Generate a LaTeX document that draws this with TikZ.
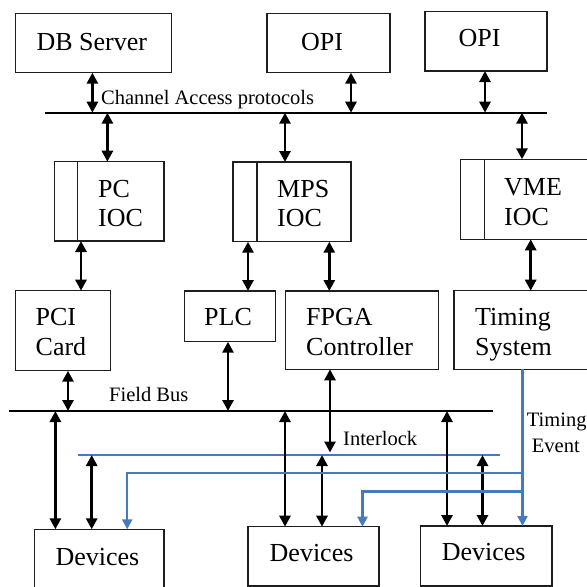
\documentclass[tikz,border=0pt]{standalone}
\usepackage{fontspec}
\setmainfont{Liberation Serif}
\usetikzlibrary{arrows.meta}
\definecolor{evblue}{RGB}{70,122,190}
\definecolor{boxgray}{RGB}{30,30,30}
\begin{document}
\begin{tikzpicture}[x=1pt,y=-1pt,
 box/.style={draw=boxgray, line width=1.2pt, inner sep=0pt, outer sep=0pt, anchor=north west},
 tbig/.style={font=\fontsize{26}{30}\selectfont, anchor=base west, inner sep=0pt},
 tsmall/.style={font=\fontsize{20.5}{24}\selectfont, anchor=base west, inner sep=0pt},
 bus/.style={line width=2.4pt},
 dbl/.style={line width=2.8pt, {Triangle[width=11pt,length=11pt]}-{Triangle[width=11pt,length=11pt]}},
 bline/.style={evblue, line width=2.2pt},
 barrow/.style={evblue, line width=2.2pt, -{Triangle[width=10pt,length=10pt]}}]
\clip (0,0) rectangle (587,587);

% boxes
\node[box, minimum width=155.7pt, minimum height=59.4pt] (dbs) at (15.7,13.3) {};
\node[box, minimum width=123pt, minimum height=59.4pt] (opi1) at (267,13.3) {};
\node[box, minimum width=122pt, minimum height=59.3pt] (opi2) at (425,11.7) {};
\node[box, minimum width=109.7pt, minimum height=79.3pt] (pcioc) at (54.3,161.7) {};
\node[box, minimum width=118pt, minimum height=79.7pt] (mpsioc) at (233,162) {};
\node[box, minimum width=140pt, minimum height=80pt] (vmeioc) at (460.7,159.3) {};
\node[box, minimum width=94.7pt, minimum height=80pt] (pci) at (15.7,290.7) {};
\node[box, minimum width=91pt, minimum height=50.7pt] (plc) at (184.5,291) {};
\node[box, minimum width=153pt, minimum height=78.3pt] (fpga) at (285.6,291) {};
\node[box, minimum width=146pt, minimum height=78.6pt] (timing) at (454,290.7) {};
\node[box, minimum width=129.2pt, minimum height=70pt] (dev1) at (34.8,529.3) {};
\node[box, minimum width=131pt, minimum height=59.3pt] (dev2) at (248,526.7) {};
\node[box, minimum width=131.3pt, minimum height=60pt] (dev3) at (420.7,526) {};

% IOC dividers
\draw[boxgray, line width=1.2pt] (77.8,0 |- pcioc.north) -- (77.8,0 |- pcioc.south);
\draw[boxgray, line width=1.2pt] (257,0 |- mpsioc.north) -- (257,0 |- mpsioc.south);
\draw[boxgray, line width=1.2pt] (484.5,0 |- vmeioc.north) -- (484.5,0 |- vmeioc.south);

% texts
\node[tbig] (tdbs) at (36.3,50) {DB Server};
\node[tbig] (topi1) at (301,50) {OPI};
\node[tbig] (topi2) at (458.5,46.7) {OPI};
\node[tbig] (tpc1) at (98,197) {PC};
\node[tbig] (tpc2) at (98,226) {IOC};
\node[tbig] (tmps1) at (277,197) {MPS};
\node[tbig] (tmps2) at (277,226) {IOC};
\node[tbig] (tvme1) at (504,195) {VME};
\node[tbig] (tvme2) at (504,225) {IOC};
\node[tbig] (tpci1) at (35.5,325) {PCI};
\node[tbig] (tpci2) at (35.5,355) {Card};
\node[tbig] (tplc) at (204,325) {PLC};
\node[tbig] (tfpga1) at (306,325) {FPGA};
\node[tbig] (tfpga2) at (306,355) {Controller};
\node[tbig] (ttim1) at (475,325) {Timing};
\node[tbig] (ttim2) at (475,355) {System};
\node[tbig] (tdev1) at (55.4,565) {Devices};
\node[tbig] (tdev2) at (269.5,561.7) {Devices};
\node[tbig] (tdev3) at (441.6,560) {Devices};
\node[tsmall] (tca) at (101,104) {Channel Access protocols};
\node[tsmall] (tfb) at (109,401) {Field Bus};
\node[tsmall] (til) at (343,445) {Interlock};
\node[tsmall] (tte1) at (526.7,426.7) {Timing};
\node[tsmall] (tte2) at (531.7,452.7) {Event};

% buses
\coordinate (caL) at (45,112.7);
\coordinate (caR) at (547,112.7);
\coordinate (fbL) at (9.4,411);
\coordinate (fbR) at (493.3,411);
\coordinate (ilL) at (77.8,455);
\coordinate (ilR) at (500,455);
\draw[bus] (caL) -- (caR);
\draw[bus] (fbL) -- (fbR);
\draw[bline] (ilL) -- (ilR);

% arrows, top level
\draw[dbl] (92.4,0 |- dbs.south) -- (92.4,0 |- caL);
\draw[dbl] (351,0 |- opi1.south) -- (351,0 |- caL);
\draw[dbl] (485,0 |- opi2.south) -- (485,0 |- caL);
\draw[dbl] (107.4,0 |- caL) -- (107.4,0 |- pcioc.north);
\draw[dbl] (285,0 |- caL) -- (285,0 |- mpsioc.north);
\draw[dbl] (522,0 |- caL) -- (522,0 |- vmeioc.north);
% IOC to controllers
\draw[dbl] (81,0 |- pcioc.south) -- (81,0 |- pci.north);
\draw[dbl] (248,0 |- mpsioc.south) -- (248,0 |- plc.north);
\draw[dbl] (329.3,0 |- mpsioc.south) -- (329.3,0 |- fpga.north);
\draw[dbl] (530.7,0 |- vmeioc.south) -- (530.7,0 |- timing.north);
% controllers to buses
\draw[dbl] (68,0 |- pci.south) -- (68,0 |- fbL);
\draw[dbl] (228,0 |- plc.south) -- (228,0 |- fbL);
\draw[dbl] (330,0 |- fpga.south) -- (330,452.5);
% buses to devices
\draw[dbl] (55.4,0 |- fbL) -- (55.4,0 |- dev1.north);
\draw[dbl] (285,0 |- fbL) -- (285,0 |- dev2.north);
\draw[dbl] (447,0 |- fbL) -- (447,0 |- dev3.north);
\draw[dbl] (91.7,0 |- ilL) -- (91.7,0 |- dev1.north);
\draw[dbl] (322,0 |- ilL) -- (322,0 |- dev2.north);
\draw[dbl] (482.5,0 |- ilL) -- (482.5,0 |- dev3.north);

% timing event
\coordinate (j1) at (522.5,473);
\coordinate (j2) at (522.5,491.5);
\draw[barrow] (522.5,0 |- timing.south) -- (522.5,0 |- dev3.north);
\draw[barrow] (j1) -- (127.2,0 |- j1) -- (127.2,0 |- dev1.north);
\draw[barrow] (j2) -- (362.5,0 |- j2) -- (362.5,0 |- dev2.north);
\end{tikzpicture}
\end{document}
